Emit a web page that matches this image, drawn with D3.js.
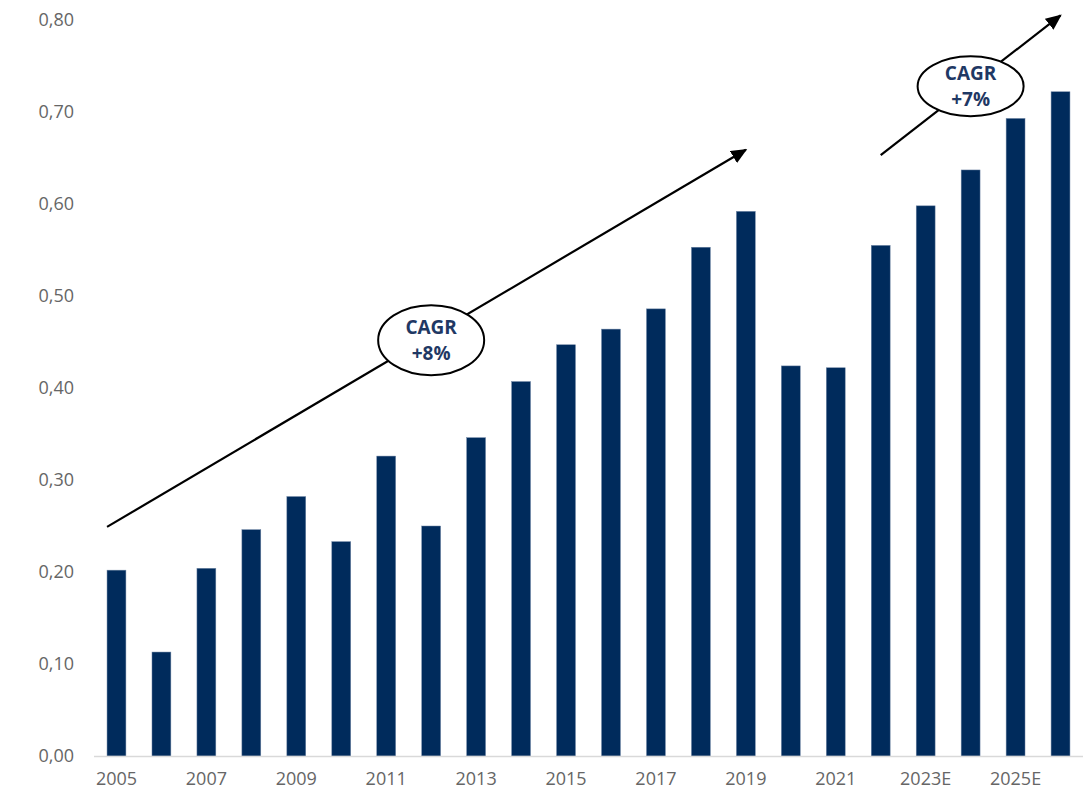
<!DOCTYPE html>
<html><head><meta charset="utf-8">
<script src="https://cdn.jsdelivr.net/npm/d3@7"></script>
<style>body{margin:0;background:#fff}svg{display:block}</style>
</head><body>
<svg id="c" width="1087" height="792"></svg>
<script>
const categories = ["2005","2006","2007","2008","2009","2010","2011","2012","2013","2014","2015","2016","2017","2018","2019","2020","2021","2022","2023E","2024E","2025E","2026E"];
const values = [0.202,0.113,0.204,0.246,0.282,0.233,0.326,0.250,0.346,0.407,0.447,0.464,0.486,0.553,0.592,0.424,0.422,0.555,0.598,0.637,0.693,0.722];
const yTicks = [0,0.1,0.2,0.3,0.4,0.5,0.6,0.7,0.8];
const xTickLabels = ["2005","2007","2009","2011","2013","2015","2017","2019","2021","2023E","2025E"];
// CAGR annotations: [category, value, position in band]
const cagr1 = {from:["2005",0.249,"start"], to:["2019",0.659,"mid"], at:["2012",0.452], lines:["CAGR","+8%"]};
const cagr2 = {from:["2022",0.653,"mid"], to:["2026E",0.805,"mid"], at:["2024E",0.728], lines:["CAGR","+7%"]};

const svg = d3.select("#c");
const x = d3.scaleBand().domain(categories).range([94,1083]).paddingInner(0.58).paddingOuter(0.29);
const y = d3.scaleLinear().domain([0,0.8]).range([756,20]);
const fmt = d => d3.format(".2f")(d).replace(".",",");
const font = "'Open Sans', 'DejaVu Sans', sans-serif";

// y labels
svg.append("g").selectAll("text").data(yTicks).join("text")
  .attr("x",74).attr("y",d=>y(d)).attr("dy","0.35em")
  .attr("text-anchor","end").attr("font-family",font).attr("font-size",18)
  .attr("fill","#666666").text(fmt);

// bars
svg.append("g").selectAll("rect").data(values).join("rect")
  .attr("x",(d,i)=>x(categories[i])).attr("width",x.bandwidth())
  .attr("y",d=>y(d)).attr("height",d=>y(0)-y(d))
  .attr("fill","#002B5C").attr("stroke","#6d84a3").attr("stroke-width",0.5);

// baseline
svg.append("line").attr("x1",94).attr("x2",1083).attr("y1",y(0)+0.5).attr("y2",y(0)+0.5)
  .attr("stroke","#d9d9d9").attr("stroke-width",1.5);

// x labels
svg.append("g").selectAll("text").data(xTickLabels).join("text")
  .attr("x",d=>x(d)+x.bandwidth()/2).attr("y",785)
  .attr("text-anchor","middle").attr("font-family",font).attr("font-size",18)
  .attr("fill","#666666").text(d=>d);

// arrows
svg.append("defs").append("marker").attr("id","ah").attr("viewBox","0 0 10 10")
  .attr("refX",9).attr("refY",5).attr("markerWidth",16).attr("markerHeight",14)
  .attr("markerUnits","userSpaceOnUse").attr("orient","auto").attr("preserveAspectRatio","none")
  .append("path").attr("d","M0,0 L10,5 L0,10 z").attr("fill","#000");

function px(cat, pos){ const b=x(cat); return pos==="start"?b: pos==="end"? b+x.bandwidth(): b+x.bandwidth()/2; }
function drawCagr(a, rx, ry){
  svg.append("line").attr("x1",px(a.from[0],a.from[2])).attr("y1",y(a.from[1]))
    .attr("x2",px(a.to[0],a.to[2])).attr("y2",y(a.to[1]))
    .attr("stroke","#000").attr("stroke-width",2.2).attr("marker-end","url(#ah)");
  const cx = px(a.at[0],"mid"), cy = y(a.at[1]);
  svg.append("ellipse").attr("cx",cx).attr("cy",cy).attr("rx",rx).attr("ry",ry)
    .attr("fill","#fff").attr("stroke","#000").attr("stroke-width",2);
  svg.append("text").attr("x",cx).attr("y",cy-6).attr("text-anchor","middle")
    .attr("font-family",font).attr("font-weight","bold").attr("font-size",19).attr("fill","#1F3864")
    .text(a.lines[0]);
  svg.append("text").attr("x",cx).attr("y",cy+20).attr("text-anchor","middle")
    .attr("font-family",font).attr("font-weight","bold").attr("font-size",19).attr("fill","#1F3864")
    .text(a.lines[1]);
}
drawCagr(cagr1, 53, 35);
drawCagr(cagr2, 53, 30);
</script>
</body></html>
